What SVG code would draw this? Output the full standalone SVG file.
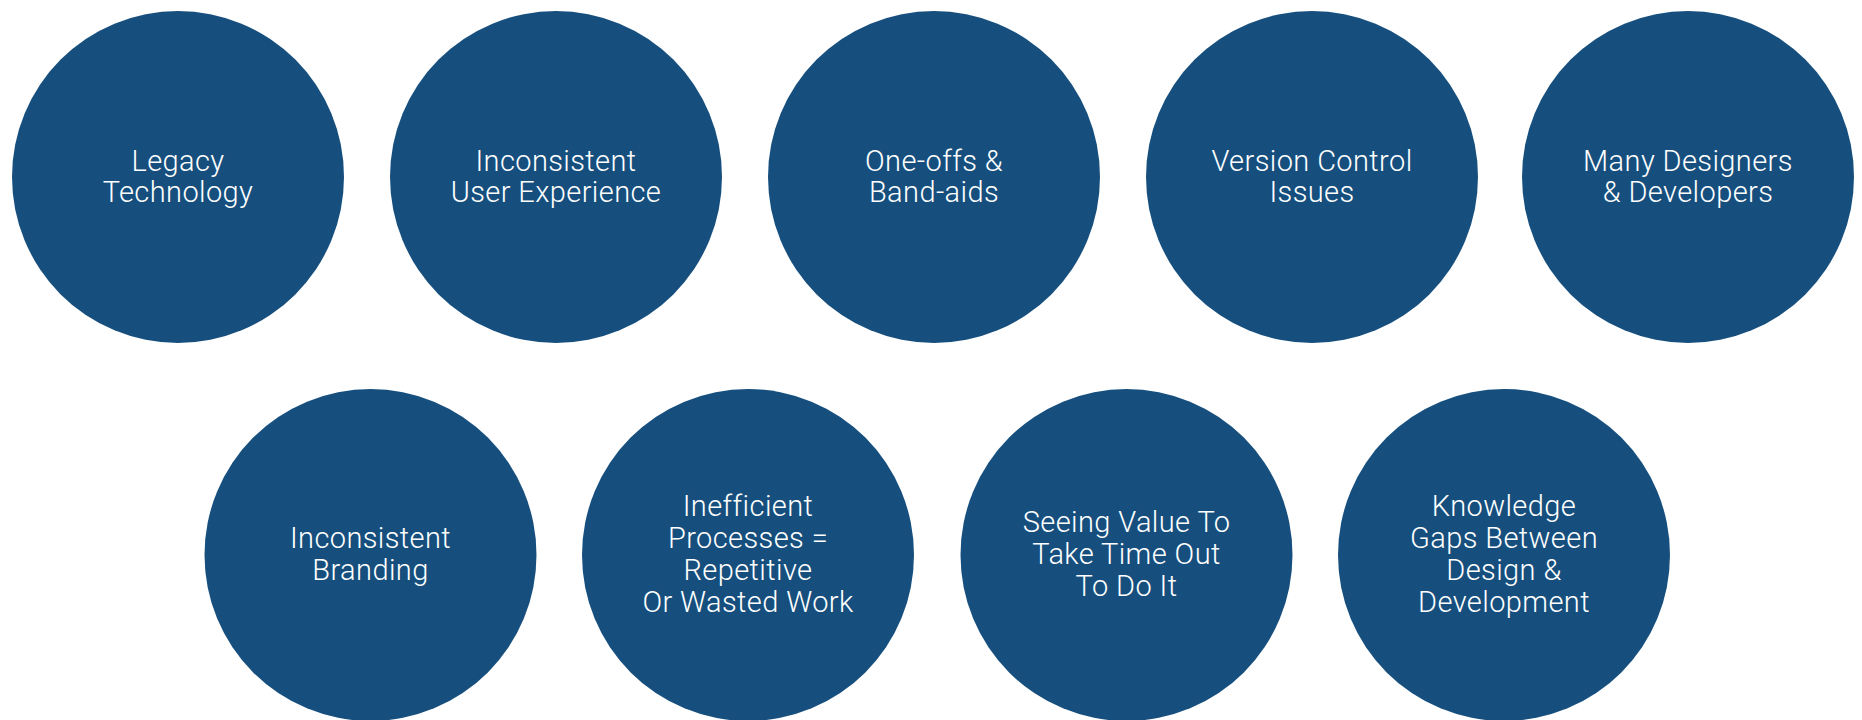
<svg xmlns="http://www.w3.org/2000/svg" width="1862" height="720" viewBox="0 0 1862 720">
<style>
.c{fill:#164F7E}
.t{fill:#ffffff;font-family:Roboto,"Liberation Sans",sans-serif;font-weight:300;font-size:29px;letter-spacing:0.4px;text-anchor:middle}
</style>
<rect width="1862" height="720" fill="#ffffff"/>
<g id="n1"><circle class="c" cx="178" cy="177" r="166"/><text class="t"><tspan x="178" y="171">Legacy</tspan><tspan x="178" y="202">Technology</tspan></text></g>
<g id="n2"><circle class="c" cx="556" cy="177" r="166"/><text class="t"><tspan x="556" y="171">Inconsistent</tspan><tspan x="556" y="202">User Experience</tspan></text></g>
<g id="n3"><circle class="c" cx="934" cy="177" r="166"/><text class="t"><tspan x="934" y="171">One-offs &amp;</tspan><tspan x="934" y="202">Band-aids</tspan></text></g>
<g id="n4"><circle class="c" cx="1312" cy="177" r="166"/><text class="t"><tspan x="1312" y="171">Version Control</tspan><tspan x="1312" y="202">Issues</tspan></text></g>
<g id="n5"><circle class="c" cx="1688" cy="177" r="166"/><text class="t"><tspan x="1688" y="171">Many Designers</tspan><tspan x="1688" y="202">&amp; Developers</tspan></text></g>
<g id="n6"><circle class="c" cx="370.5" cy="555" r="166"/><text class="t"><tspan x="370.5" y="548">Inconsistent</tspan><tspan x="370.5" y="580">Branding</tspan></text></g>
<g id="n7"><circle class="c" cx="748" cy="555" r="166"/><text class="t"><tspan x="748" y="516">Inefficient</tspan><tspan x="748" y="548">Processes =</tspan><tspan x="748" y="580">Repetitive</tspan><tspan x="748" y="612">Or Wasted Work</tspan></text></g>
<g id="n8"><circle class="c" cx="1126.5" cy="555" r="166"/><text class="t"><tspan x="1126.5" y="532">Seeing Value To</tspan><tspan x="1126.5" y="564">Take Time Out</tspan><tspan x="1126.5" y="596">To Do It</tspan></text></g>
<g id="n9"><circle class="c" cx="1504" cy="555" r="166"/><text class="t"><tspan x="1504" y="516">Knowledge</tspan><tspan x="1504" y="548">Gaps Between</tspan><tspan x="1504" y="580">Design &amp;</tspan><tspan x="1504" y="612">Development</tspan></text></g>
<g id="connectors"/>
</svg>
